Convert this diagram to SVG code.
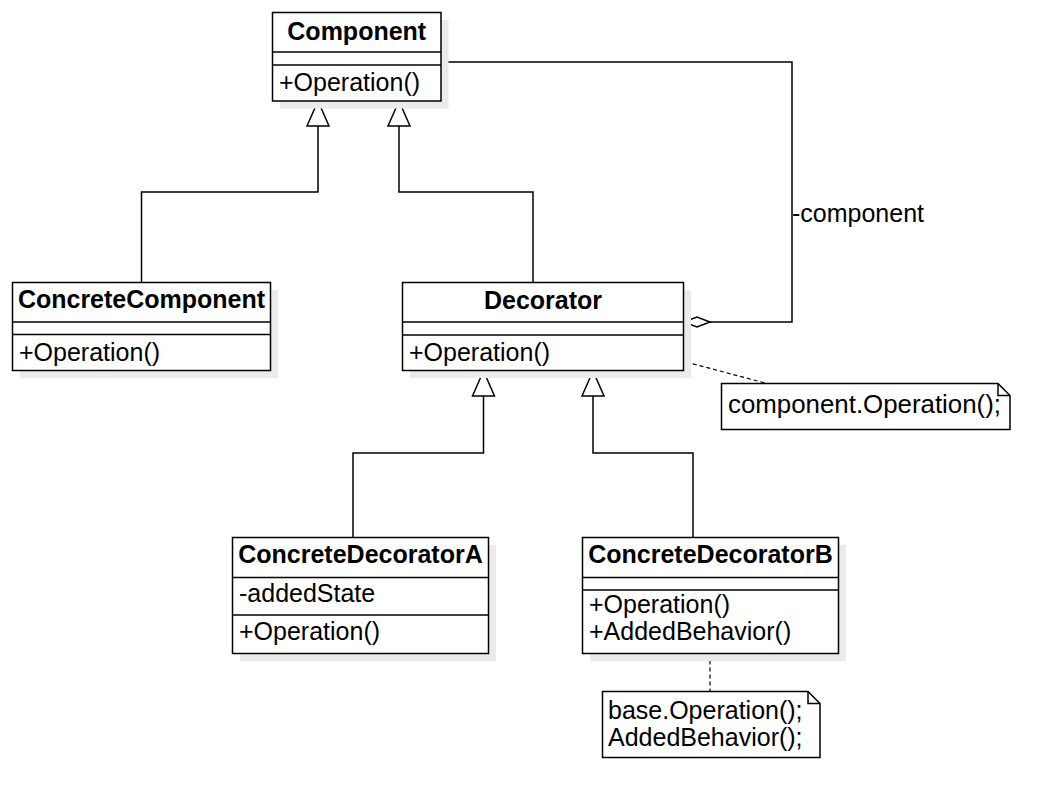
<svg xmlns="http://www.w3.org/2000/svg" width="1060" height="808" viewBox="0 0 1060 808">
  <style>
    .box { fill: #ffffff; stroke: #000000; stroke-width: 1.5; }
    .shadow { fill: #ebebeb; }
    .sep { stroke: #000000; stroke-width: 1.5; }
    .edge { fill: none; stroke: #000000; stroke-width: 1.5; }
    .dash { fill: none; stroke: #000000; stroke-width: 1.2; stroke-dasharray: 4 3; }
    .head { fill: #ffffff; stroke: #000000; stroke-width: 1.5; }
    .title { font-family: "Liberation Sans", Arial, sans-serif; font-size: 25px; font-weight: bold; text-anchor: middle; fill: #000000; }
    .member { font-family: "Liberation Sans", Arial, sans-serif; font-size: 25px; fill: #000000; }
  </style>
  <rect width="1060" height="808" fill="#ffffff"/>

  <!-- inheritance, aggregation and note links -->
  <g id="connectors">
    <!-- ConcreteComponent -> Component -->
    <path class="edge" d="M141.5,282.5 V192 H318 V126"/>
    <path class="head" d="M318,101 L329,126 L307,126 Z"/>
    <!-- Decorator -> Component -->
    <path class="edge" d="M533,282.5 V192 H399 V126"/>
    <path class="head" d="M399,101 L410,126 L388,126 Z"/>
    <!-- ConcreteDecoratorA -> Decorator -->
    <path class="edge" d="M353,537.5 V453 H483.5 V396"/>
    <path class="head" d="M483.5,371 L494.5,396 L472.5,396 Z"/>
    <!-- ConcreteDecoratorB -> Decorator -->
    <path class="edge" d="M693,537.5 V453 H593 V396"/>
    <path class="head" d="M593,371 L604,396 L582,396 Z"/>
    <!-- Decorator aggregates Component -->
    <path class="edge" d="M441,62 H792 V322 H710"/>
    <path class="head" d="M683.5,322 L697,317 L710,322 L697,327 Z"/>
    <text class="member" x="792" y="222">-component</text>
    <!-- note links -->
    <path class="dash" d="M686,362 L765,383"/>
    <path class="dash" d="M710,653.5 V691.5"/>
  </g>

  <g id="component">
    <rect class="shadow" x="280" y="20" width="168.5" height="88.5"/>
    <rect class="box" x="272.5" y="12.5" width="168.5" height="88.5"/>
    <line class="sep" x1="272.5" y1="52" x2="441" y2="52"/>
    <line class="sep" x1="272.5" y1="65" x2="441" y2="65"/>
    <text class="title" x="356.75" y="40">Component</text>
    <text class="member" x="279" y="91">+Operation()</text>
  </g>

  <g id="concrete-component">
    <rect class="shadow" x="20" y="290" width="258" height="88"/>
    <rect class="box" x="12.5" y="282.5" width="258" height="88"/>
    <line class="sep" x1="12.5" y1="322" x2="270.5" y2="322"/>
    <line class="sep" x1="12.5" y1="334.5" x2="270.5" y2="334.5"/>
    <text class="title" x="141.5" y="308">ConcreteComponent</text>
    <text class="member" x="19" y="361">+Operation()</text>
  </g>

  <g id="decorator">
    <rect class="shadow" x="410" y="290" width="281" height="88"/>
    <rect class="box" x="402.5" y="282.5" width="281" height="88"/>
    <line class="sep" x1="402.5" y1="322" x2="683.5" y2="322"/>
    <line class="sep" x1="402.5" y1="335" x2="683.5" y2="335"/>
    <text class="title" x="543" y="309">Decorator</text>
    <text class="member" x="409" y="361">+Operation()</text>
  </g>

  <g id="note-decorator">
    <path class="box" d="M721.5,383.5 H998 L1010,395.5 V429.5 H721.5 Z"/>
    <path class="edge" d="M998,383.5 V395.5 H1010"/>
    <text class="member" x="728" y="413" textLength="273" lengthAdjust="spacingAndGlyphs">component.Operation();</text>
  </g>

  <g id="concrete-decorator-a">
    <rect class="shadow" x="240" y="545" width="256" height="116"/>
    <rect class="box" x="232.5" y="537.5" width="256" height="116"/>
    <line class="sep" x1="232.5" y1="577.5" x2="488.5" y2="577.5"/>
    <line class="sep" x1="232.5" y1="615" x2="488.5" y2="615"/>
    <text class="title" x="360.5" y="563">ConcreteDecoratorA</text>
    <text class="member" x="239" y="602">-addedState</text>
    <text class="member" x="239" y="640">+Operation()</text>
  </g>

  <g id="concrete-decorator-b">
    <rect class="shadow" x="590" y="545" width="256" height="116"/>
    <rect class="box" x="582.5" y="537.5" width="256" height="116"/>
    <line class="sep" x1="582.5" y1="577.5" x2="838.5" y2="577.5"/>
    <line class="sep" x1="582.5" y1="590" x2="838.5" y2="590"/>
    <text class="title" x="710.5" y="563">ConcreteDecoratorB</text>
    <text class="member" x="589" y="613">+Operation()</text>
    <text class="member" x="589" y="640">+AddedBehavior()</text>
  </g>

  <g id="note-decorator-b">
    <path class="box" d="M602.5,691.5 H808 L820,703.5 V757.5 H602.5 Z"/>
    <path class="edge" d="M808,691.5 V703.5 H820"/>
    <text class="member" x="608" y="719">base.Operation();</text>
    <text class="member" x="608" y="746">AddedBehavior();</text>
  </g>
</svg>
